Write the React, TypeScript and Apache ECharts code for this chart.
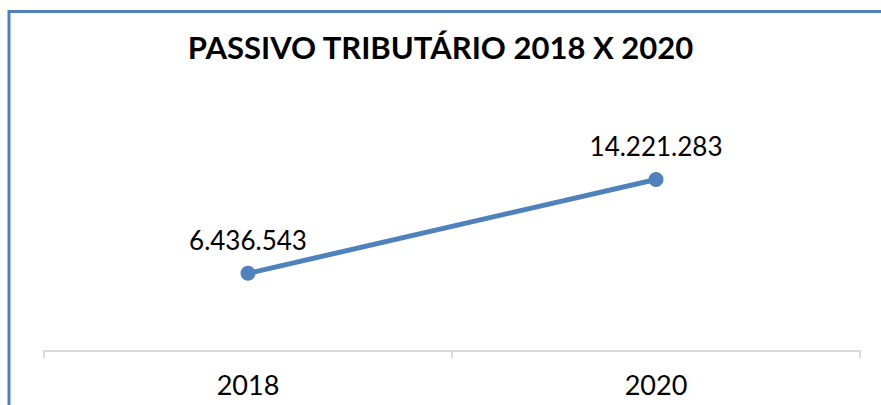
import React, { useEffect, useRef } from "react";
import * as echarts from "echarts";

const categories = ["2018", "2020"];
const values = [6436543, 14221283];
const titleText = "PASSIVO TRIBUTÁRIO 2018 X 2020";

const fmt = (v: number) => v.toString().replace(/\B(?=(\d{3})+(?!\d))/g, ".");

export default function App() {
  const ref = useRef<HTMLDivElement>(null);
  useEffect(() => {
    if (!ref.current) return;
    const chart = echarts.init(ref.current, undefined, { renderer: "svg" });
    chart.setOption({
      animation: false,
      backgroundColor: "#ffffff",
      title: {
        text: titleText,
        left: "center",
        top: 26,
        textStyle: { fontFamily: "Lato", fontWeight: "bold", fontSize: 31, color: "#000" },
      },
      graphic: [
        { type: "line", shape: { x1: 9, y1: 11.5, x2: 881, y2: 11.5 }, style: { stroke: "#4F81BD", lineWidth: 3 } },
        { type: "line", shape: { x1: 9, y1: 10, x2: 9, y2: 405 }, style: { stroke: "#4F81BD", lineWidth: 3 } },
      ],
      grid: { left: 44, right: 21, top: 158, bottom: 54 },
      xAxis: {
        type: "category",
        data: categories,
        boundaryGap: true,
        axisLine: { lineStyle: { color: "#D9D9D9", width: 2 } },
        axisTick: { show: true, length: 7, lineStyle: { color: "#D9D9D9", width: 2 } },
        axisLabel: { fontFamily: "Lato", fontSize: 27, color: "#000", margin: 20 },
      },
      yAxis: {
        type: "value",
        min: 0,
        max: 16000000,
        show: false,
        splitLine: { show: false },
      },
      series: [
        {
          type: "line",
          data: values,
          symbol: "circle",
          symbolSize: 15,
          lineStyle: { color: "#4F81BD", width: 5 },
          itemStyle: { color: "#4F81BD" },
          label: {
            show: true,
            position: "top",
            distance: 13,
            formatter: (p: any) => fmt(p.value),
            fontFamily: "Lato",
            fontSize: 26,
            color: "#000",
          },
        },
      ],
    });
    return () => chart.dispose();
  }, []);
  return <div ref={ref} style={{ position: "fixed", left: 0, top: 0, width: 881, height: 405 }} />;
}
